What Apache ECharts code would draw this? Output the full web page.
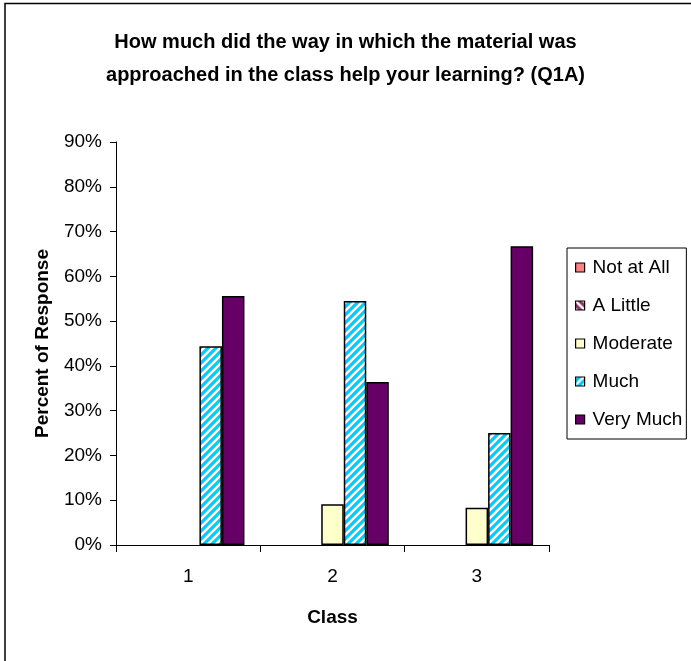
<!DOCTYPE html>
<html>
<head>
<meta charset="utf-8">
<script src="https://cdn.jsdelivr.net/npm/echarts@6/dist/echarts.min.js"></script>
<style>
  html, body { margin: 0; padding: 0; background: #fff; }
  #chart { width: 691px; height: 661px; }
</style>
</head>
<body>
<div id="chart"></div>
<script>
// Survey responses per class (share of respondents, %)
const classes = ['1', '2', '3'];
const notAtAll = [0, 0, 0];
const aLittle = [0, 0, 0];
const moderate = [0, 9.1, 8.3];
const much = [44.4, 54.5, 25.0];
const veryMuch = [55.6, 36.4, 66.7];
const yTicks = [0, 10, 20, 30, 40, 50, 60, 70, 80, 90];

// Diagonal hatch tile used as a bar fill
function hatch(base, stripe, upward) {
  const c = document.createElement('canvas');
  c.width = 8; c.height = 8;
  const g = c.getContext('2d');
  g.fillStyle = base;
  g.fillRect(0, 0, 8, 8);
  g.strokeStyle = stripe;
  g.lineWidth = 2.4;
  g.beginPath();
  if (upward) {
    g.moveTo(-2, 10); g.lineTo(10, -2);
    g.moveTo(-6, 6); g.lineTo(6, -6);
    g.moveTo(2, 14); g.lineTo(14, 2);
  } else {
    g.moveTo(-2, -2); g.lineTo(10, 10);
    g.moveTo(-6, 2); g.lineTo(6, 14);
    g.moveTo(2, -6); g.lineTo(14, 6);
  }
  g.stroke();
  return { image: c, repeat: 'repeat' };
}

const font = 'Liberation Sans, Arial, sans-serif';
const chart = echarts.init(document.getElementById('chart'), null, { renderer: 'canvas' });

function barSeries(name, data, color) {
  return {
    name: name,
    type: 'bar',
    // empty bars keep their value but get no outline along the axis
    data: data.map(v => (v === 0 ? { value: v, itemStyle: { borderWidth: 0 } } : v)),
    barGap: '0%',
    barCategoryGap: '22%',
    itemStyle: { color: color, borderColor: '#000', borderWidth: 1.5 },
    emphasis: { disabled: true }
  };
}

chart.setOption({
  animation: false,
  backgroundColor: '#fff',
  title: {
    text: 'How much did the way in which the material was\napproached in the class help your learning? (Q1A)',
    left: 'center',
    top: 26,
    padding: 0,
    textStyle: {
      fontFamily: font,
      fontWeight: 'bold',
      fontSize: 20,
      lineHeight: 33,
      color: '#000'
    }
  },
  legend: {
    orient: 'vertical',
    left: 567,
    top: 248,
    padding: [10, 4, 10, 8],
    itemWidth: 9,
    itemHeight: 9,
    itemGap: 19,
    borderColor: '#000',
    borderWidth: 1,
    backgroundColor: '#fff',
    borderRadius: 0,
    icon: 'rect',
    itemStyle: { borderColor: '#000', borderWidth: 1.2 },
    textStyle: { fontFamily: font, fontSize: 19, color: '#000', lineHeight: 19, padding: [0, 0, 0, 3] },
    data: ['Not at All', 'A Little', 'Moderate', 'Much', 'Very Much']
  },
  grid: { left: 116, right: 142, top: 142, bottom: 116, containLabel: false },
  xAxis: {
    type: 'category',
    data: classes,
    name: 'Class',
    nameLocation: 'middle',
    nameGap: 63,
    nameTextStyle: { fontFamily: font, fontWeight: 'bold', fontSize: 19, color: '#000' },
    axisLine: { lineStyle: { color: '#000', width: 1 } },
    axisTick: { show: true, length: 7, lineStyle: { color: '#000' } },
    axisLabel: { fontFamily: font, fontSize: 19, color: '#000', margin: 22 },
    splitLine: { show: false }
  },
  yAxis: {
    type: 'value',
    min: yTicks[0],
    max: yTicks[yTicks.length - 1],
    interval: 10,
    name: 'Percent of Response',
    nameLocation: 'middle',
    nameRotate: 90,
    nameGap: 64,
    nameTextStyle: { fontFamily: font, fontWeight: 'bold', fontSize: 19, color: '#000' },
    axisLine: { show: true, lineStyle: { color: '#000', width: 1 } },
    axisTick: { show: true, length: 6, lineStyle: { color: '#000' } },
    axisLabel: { fontFamily: font, fontSize: 19, color: '#000', margin: 14, formatter: '{value}%' },
    splitLine: { show: false }
  },
  graphic: [{
    type: 'rect',
    shape: { x: 5, y: 3.5, width: 720, height: 720 },
    style: { fill: 'none', stroke: '#000', lineWidth: 1.5 },
    silent: true,
    z: 100
  }],
  series: [
    barSeries('Not at All', notAtAll, '#FF8080'),
    barSeries('A Little', aLittle, hatch('#993366', '#ffffff', false)),
    barSeries('Moderate', moderate, '#FFFFCC'),
    barSeries('Much', much, hatch('#00CCFF', '#ffffff', true)),
    barSeries('Very Much', veryMuch, '#660066')
  ]
});
</script>
</body>
</html>
